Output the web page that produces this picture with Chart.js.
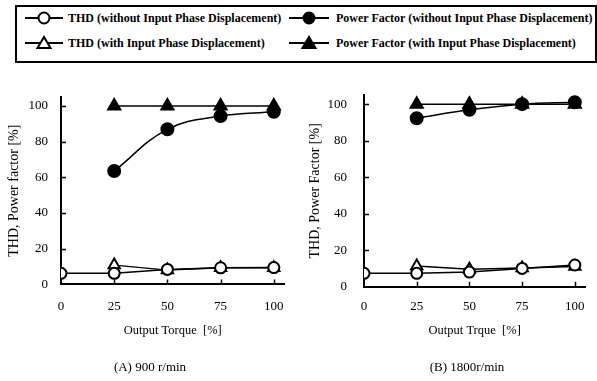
<!DOCTYPE html>
<html><head><meta charset="utf-8">
<script src="https://cdn.jsdelivr.net/npm/chart.js@4/dist/chart.umd.min.js"></script>
<style>
body{margin:0;width:597px;height:381px;position:relative;background:#fff;overflow:hidden;font-family:"Liberation Serif","Times New Roman",serif;}
#legendBox{position:absolute;left:15px;top:5px;width:582px;height:58px;border:2px solid #000;box-sizing:border-box;}
.li{position:absolute;display:flex;align-items:center;font-weight:bold;font-size:12px;white-space:nowrap;height:16px;color:#000;}
.li svg{display:block}
.cap{position:absolute;font-size:13px;color:#000;white-space:nowrap;transform:translate(-50%,-50%);}
#c1wrap{position:absolute;left:0;top:65px;width:298px;height:316px}
#c2wrap{position:absolute;left:298px;top:65px;width:299px;height:316px}
</style></head>
<body>
<div id="legendBox"></div>
<div id="legend"></div>
<div id="c1wrap"><canvas id="c1" width="298" height="316"></canvas></div>
<div id="c2wrap"><canvas id="c2" width="299" height="316"></canvas></div>
<div class="cap" id="capA" style="left:150px;top:367px"></div>
<div class="cap" id="capB" style="left:467px;top:367px"></div>
<script>
// ---- data ----
const torque = [0, 25, 50, 75, 100];
const seriesLabels = [
  'THD (without Input Phase Displacement)',
  'THD (with Input Phase Displacement)',
  'Power Factor (without Input Phase Displacement)',
  'Power Factor (with Input Phase Displacement)'
];
// (A) 900 r/min
const thdNoShiftA = [6.2, 6.2, 8.4, 9.3, 9.4];
const thdShiftA   = [null, 10.8, 8.0, 9.3, 9.3];
const pfNoShiftA  = [null, 63.5, 86.9, 94.3, 96.7];
const pfShiftA    = [null, 100, 100, 100, 100];
// (B) 1800 r/min
const thdNoShiftB = [7.3, 7.3, 8.0, 10.0, 11.9];
const thdShiftB   = [null, 11.3, 9.5, 10.3, 11.0];
const pfNoShiftB  = [null, 92.3, 96.9, 100, 101];
const pfShiftB    = [null, 100, 100, 100, 100];
const xTickValues = [0, 25, 50, 75, 100];
const yTickValues = [0, 20, 40, 60, 80, 100];
const titleA = '(A) 900 r/min', titleB = '(B) 1800r/min';
const xTitleA = 'Output Torque  [%]', xTitleB = 'Output Trque  [%]';
const yTitleA = 'THD, Power factor [%]', yTitleB = 'THD, Power Factor [%]';

document.getElementById('capA').textContent = titleA;
document.getElementById('capB').textContent = titleB;

// ---- legend (HTML) ----
const styles = [
  {shape:'circle', fill:'#fff'},
  {shape:'triangle', fill:'#fff'},
  {shape:'circle', fill:'#000'},
  {shape:'triangle', fill:'#000'}
];
// [left, top, iconWidth, gapAfterIcon]
const legendPos = [[25,10,38,5],[25,35,38,5],[289,10,40,7],[289,35,40,7]];
const leg = document.getElementById('legend');
seriesLabels.forEach((lab, i) => {
  const s = styles[i];
  const w = legendPos[i][2], c = w / 2;
  const marker = s.shape === 'circle'
    ? `<circle cx="${c}" cy="8" r="5.5" fill="${s.fill}" stroke="#000" stroke-width="2"/>`
    : `<polygon points="${c},2 ${c+6.5},13 ${c-6.5},13" fill="${s.fill}" stroke="#000" stroke-width="2" stroke-linejoin="miter"/>`;
  const d = document.createElement('div');
  d.className = 'li';
  d.style.left = legendPos[i][0] + 'px';
  d.style.top = legendPos[i][1] + 'px';
  d.innerHTML = `<svg width="${w}" height="16" style="margin-right:${legendPos[i][3]}px"><line x1="0" y1="8" x2="${w}" y2="8" stroke="#000" stroke-width="2"/>${marker}</svg><span>${lab}</span>`;
  leg.appendChild(d);
});

// ---- charts ----
const inwardTicks = {
  id: 'inwardTicks',
  beforeDatasetsDraw(chart) {
    const {ctx, scales: {x, y}} = chart;
    ctx.save();
    ctx.strokeStyle = '#000';
    ctx.lineWidth = 1.5;
    ctx.beginPath();
    const y0 = y.getPixelForValue(0), x0 = x.getPixelForValue(0);
    xTickValues.forEach(v => { if (v === 0) return; const px = Math.round(x.getPixelForValue(v)) + 0.5; ctx.moveTo(px, y0); ctx.lineTo(px, y0 - 5); });
    yTickValues.forEach(v => { if (v === 0) return; const py = Math.round(y.getPixelForValue(v)) + 0.5; ctx.moveTo(x0, py); ctx.lineTo(x0 + 5, py); });
    ctx.stroke();
    ctx.restore();
  }
};

function pts(arr) {
  return torque.map((t, i) => arr[i] == null ? null : {x: t, y: arr[i]}).filter(p => p);
}

function makeChart(id, d, o) {
  const ds = [
    {label: seriesLabels[0], data: pts(d[0]), pointStyle:'circle', pointRadius:5.5, pointBackgroundColor:'#fff', borderWidth:1.5},
    {label: seriesLabels[1], data: pts(d[1]), pointStyle:'triangle', pointRadius:6.5, pointBackgroundColor:'#fff', borderWidth:1.5},
    {label: seriesLabels[2], data: pts(d[2]), pointStyle:'circle', pointRadius:6, pointBackgroundColor:'#000', borderWidth:1.5, tension:0.4},
    {label: seriesLabels[3], data: pts(d[3]), pointStyle:'triangle', pointRadius:7, pointBackgroundColor:'#000', borderWidth:1.5}
  ].map(s => Object.assign({borderColor:'#000', pointBorderColor:'#000', pointBorderWidth:2, fill:false, tension:0}, s));
  const font = {family:'"Liberation Serif","Times New Roman",serif'};
  return new Chart(document.getElementById(id), {
    type: 'line',
    data: {datasets: ds},
    plugins: [inwardTicks],
    options: {
      responsive: false, animation: false, devicePixelRatio: 1,
      layout: {padding: {top: o.padTop, right: o.padRight, left: 0, bottom: 0}},
      plugins: {legend: {display: false}, tooltip: {enabled: false}},
      scales: {
        x: {
          type: 'linear', min: 0, max: 105,
          afterBuildTicks: s => { s.ticks = xTickValues.map(v => ({value: v})); },
          afterFit: s => { s.height = o.xH; },
          grid: {display: false, drawTicks: false},
          border: {display: true, color: '#000', width: 2},
          ticks: {color: '#000', padding: o.xTickPad, maxRotation: 0, font: Object.assign({size: 13}, font)},
          title: {display: true, text: o.xTitle, color: '#000', font: Object.assign({size: 12.5, lineHeight: 1.2}, font), padding: {top: 0, bottom: 42.6}}
        },
        y: {
          type: 'linear', min: 0, max: 105,
          afterBuildTicks: s => { s.ticks = yTickValues.map(v => ({value: v})); },
          afterFit: s => { s.width = o.yW; },
          grid: {display: false, drawTicks: false},
          border: {display: true, color: '#000', width: 2},
          ticks: {color: '#000', padding: o.yTickPad, font: Object.assign({size: 13}, font)},
          title: {display: true, text: o.yTitle, color: '#000', font: Object.assign({size: 14, lineHeight: 1.2}, font), padding: {top: o.yTitlePad, bottom: 0}}
        }
      }
    }
  });
}

makeChart('c1', [thdNoShiftA, thdShiftA, pfNoShiftA, pfShiftA],
  {padTop: 32, padRight: 8, xH: 96.6, yW: 61, xTickPad: 14, yTickPad: 13, yTitlePad: 5.6, xTitle: xTitleA, yTitle: yTitleA});
makeChart('c2', [thdNoShiftB, thdShiftB, pfNoShiftB, pfShiftB],
  {padTop: 30, padRight: 1, xH: 94.3, yW: 66, xTickPad: 12, yTickPad: 17, yTitlePad: 8.6, xTitle: xTitleB, yTitle: yTitleB});
</script>
</body></html>
